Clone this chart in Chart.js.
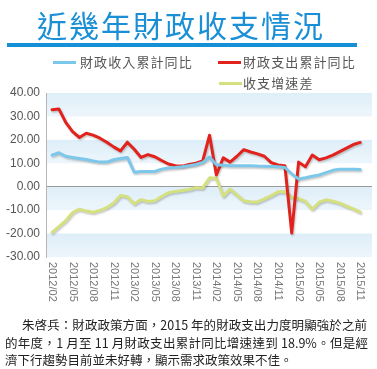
<!DOCTYPE html>
<html><head><meta charset="utf-8">
<script src="https://cdn.jsdelivr.net/npm/chart.js@4.4.0/dist/chart.umd.min.js"></script>
<style>
html,body{margin:0;padding:0;background:#fff;}
#wrap{position:relative;width:377px;height:369px;overflow:hidden;font-family:"Noto Sans CJK TC","Noto Sans CJK SC",sans-serif;}
#c{position:absolute;left:0;top:0;}
.title{position:absolute;left:0;width:362px;top:3px;text-align:center;font-size:30px;letter-spacing:2px;color:#1a8fd6;line-height:42px;white-space:nowrap;}
.rule{position:absolute;left:7px;width:350px;top:43px;height:4px;background:#1590d6;}
.leg{position:absolute;font-size:13px;color:#555;letter-spacing:1.1px;line-height:16px;white-space:nowrap;}
.sw{position:absolute;height:3px;width:23px;}
.note{position:absolute;font-size:12.5px;color:#222;line-height:17.5px;white-space:nowrap;}
.just{text-align:justify;text-align-last:justify;white-space:normal;}
</style></head>
<body>
<div id="wrap">
<canvas id="c" width="377" height="369"></canvas>
<div class="title">近幾年財政收支情況</div>
<div class="rule"></div>
<div id="legend"></div>
<div class="note just" style="left:22px;width:345px;top:316px;">朱啓兵：財政政策方面，2015 年的財政支出力度明顯強於之前</div>
<div class="note just" style="left:5px;width:363px;top:334px;">的年度，1 月至 11 月財政支出累計同比增速達到 18.9%。但是經</div>
<div class="note" style="left:5px;top:351px;">濟下行趨勢目前並未好轉，顯示需求政策效果不佳。</div>
</div>
<script>
const months = ['2012/02','2012/03','2012/04','2012/05','2012/06','2012/07','2012/08','2012/09','2012/10','2012/11','2012/12',
'2013/01','2013/02','2013/03','2013/04','2013/05','2013/06','2013/07','2013/08','2013/09','2013/10','2013/11','2013/12',
'2014/01','2014/02','2014/03','2014/04','2014/05','2014/06','2014/07','2014/08','2014/09','2014/10','2014/11','2014/12',
'2015/01','2015/02','2015/03','2015/04','2015/05','2015/06','2015/07','2015/08','2015/09','2015/10','2015/11'];
const tickLabels = ['2012/02','2012/05','2012/08','2012/11','2013/02','2013/05','2013/08','2013/11',
'2014/02','2014/05','2014/08','2014/11','2015/02','2015/05','2015/08','2015/11'];
const yTicks = [40,30,20,10,0,-10,-20,-30];
const revenue = [13.5,14.5,13,12.5,12,11.6,11,10.5,10.5,11.5,12,12.5,6.2,6.5,6.5,6.5,7.5,8,8.2,8.5,9,9.5,10.4,12.7,9.4,9.2,9,9,9,9,8.8,8.7,8.6,8.5,8.2,5.5,3.3,3.8,4.5,5,6,7,7.5,7.5,7.5,7.3];
const expenditure = [32.9,33.2,27.5,23.5,21,22.8,22,20.7,19,17,15.3,19,16,12.5,13.7,12.8,11.2,9.7,9,8.8,9.5,10,11,22,5,12.3,10.5,13,15.8,14.8,14,13,10.3,9.3,9,-19.8,10.5,8.5,13.5,11.5,12.3,13.5,15,16.5,18,18.9];
const gap = [-19.5,-17,-14.5,-11,-9.6,-10.4,-10.9,-10.1,-8.9,-7,-3.7,-4.3,-7.3,-5.5,-6.3,-6,-4.2,-2.6,-2,-1.6,-1.2,-0.4,-0.5,3.8,3.6,-4,-1,-3.5,-6,-6.5,-6.5,-5.2,-3.8,-2.2,-2,-4.5,-5.1,-6.3,-9.6,-6.6,-5.6,-6.2,-7,-8.3,-9.5,-10.8];
const seriesNames = ['財政收入累計同比','財政支出累計同比','收支增速差'];
const seriesColors = ['#7cc7ea','#e2231d','#d5e07f'];

const toPts = arr => arr.map((v,i)=>({x:i,y:v}));

// HTML legend
const legPos = [{sx:53,tx:80,y:62},{sx:218,tx:243,y:62},{sx:219,tx:243,y:83}];
const legEl = document.getElementById('legend');
seriesNames.forEach((n,i)=>{
  const p = legPos[i];
  const s = document.createElement('div'); s.className='sw';
  s.style.left=p.sx+'px'; s.style.top=(p.y-1)+'px'; s.style.background=seriesColors[i];
  const t = document.createElement('div'); t.className='leg';
  t.style.left=p.tx+'px'; t.style.top=(p.y-8)+'px'; t.textContent=n;
  legEl.appendChild(s); legEl.appendChild(t);
});

const bands = {
  id:'bands',
  beforeDraw(chart){
    const {ctx, chartArea:a, scales:{y}} = chart;
    ctx.save();
    for (let v=40; v>-30; v-=20){
      const t=y.getPixelForValue(v), b=y.getPixelForValue(v-10);
      const g = ctx.createLinearGradient(0,t,0,b);
      g.addColorStop(0,'rgba(220,237,248,0.95)');
      g.addColorStop(1,'rgba(234,244,251,0.85)');
      ctx.fillStyle=g;
      ctx.fillRect(a.left, t, a.right-a.left, b-t);
    }
    ctx.restore();
  }
};
const shadow = {
  id:'shadow',
  beforeDatasetsDraw(chart){ const c=chart.ctx; c.save(); c.shadowColor='rgba(0,0,0,0.22)'; c.shadowBlur=2; c.shadowOffsetX=1; c.shadowOffsetY=1.5; },
  afterDatasetsDraw(chart){ chart.ctx.restore(); }
};
const xLabels = {
  id:'xLabels',
  afterDraw(chart){
    const {ctx, scales:{x}} = chart;
    ctx.save();
    ctx.fillStyle='#777';
    ctx.font='11px "Liberation Sans", Arial, sans-serif';
    ctx.textAlign='left'; ctx.textBaseline='middle';
    tickLabels.forEach(l=>{
      const px = x.getPixelForValue(months.indexOf(l));
      ctx.save(); ctx.translate(px, 262); ctx.rotate(Math.PI/2); ctx.fillText(l,0,0); ctx.restore();
    });
    ctx.restore();
  }
};

new Chart(document.getElementById('c'), {
  type:'line',
  data:{datasets:[revenue,expenditure,gap].map((arr,i)=>({
    label:seriesNames[i], data:toPts(arr), borderColor:seriesColors[i], backgroundColor:seriesColors[i],
    borderWidth:3, pointRadius:0, tension:0, borderJoinStyle:'round', borderCapStyle:'round'
  }))},
  options:{
    responsive:false, animation:false,
    layout:{padding:{top:93,right:5,left:0,bottom:0}},
    plugins:{legend:{display:false},tooltip:{enabled:false}},
    scales:{
      x:{type:'linear',min:-0.88,max:46.72,ticks:{display:false},grid:{display:false},border:{display:false},
         afterFit(s){s.height=112;}},
      y:{min:-30,max:40,
         afterBuildTicks(s){s.ticks=yTicks.map(v=>({value:v}));},
         ticks:{callback:v=>Number(v).toFixed(2),color:'#555',font:{size:12,family:'"Liberation Sans", Arial, sans-serif'},padding:6},
         grid:{drawTicks:false,color:c=>c.tick&&c.tick.value===0?'#9a9a9a':'rgba(0,0,0,0)',lineWidth:1},
         border:{display:true,color:'#b5b5b5'},
         afterFit(s){s.width=46;}}
    }
  },
  plugins:[bands,shadow,xLabels]
});
</script>
</body></html>
